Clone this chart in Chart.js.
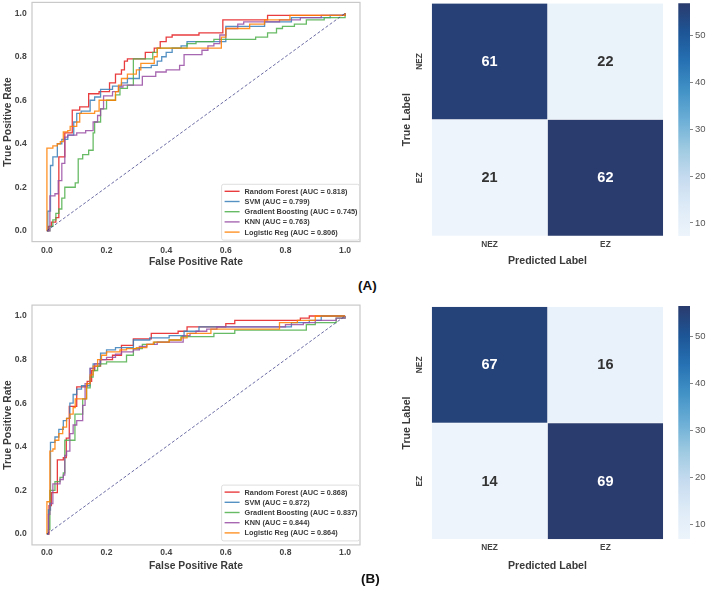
<!DOCTYPE html>
<html><head><meta charset="utf-8">
<script src="https://cdn.jsdelivr.net/npm/chart.js@4.4.0/dist/chart.umd.min.js"></script>
<style>
html,body{margin:0;padding:0;background:#fff;width:708px;height:594px;overflow:hidden;position:relative;}
canvas{position:absolute;}
.panel{position:absolute;font:bold 13.5px "Liberation Sans",Arial,sans-serif;color:#111;white-space:nowrap;}
</style></head><body>
<canvas id="rocA" width="362" height="275" style="left:0;top:0"></canvas>
<canvas id="heatA" width="270" height="275" style="left:395px;top:0"></canvas>
<canvas id="cbarA" width="38" height="275" style="left:670px;top:0"></canvas>
<canvas id="rocB" width="362" height="294" style="left:0;top:300px"></canvas>
<canvas id="heatB" width="270" height="294" style="left:395px;top:300px"></canvas>
<canvas id="cbarB" width="38" height="294" style="left:670px;top:300px"></canvas>
<div class="panel" style="left:358px;top:278px">(A)</div>
<div class="panel" style="left:361px;top:571px">(B)</div>
<script>
// ---------------- DATA ----------------
const modelNames = ['Random Forest', 'SVM', 'Gradient Boosting', 'KNN', 'Logistic Reg'];
const aucA = [0.818, 0.799, 0.745, 0.763, 0.806];
const aucB = [0.868, 0.872, 0.837, 0.844, 0.864];
const rocTicks = [0, 0.2, 0.4, 0.6, 0.8, 1.0];
const diagPts = [[0, 0], [1, 1]];

// ROC corner points [fpr, tpr] (panel A)
const rfA = [[0,0],[0.005,0.02],[0.015,0.04],[0.03,0.06],[0.04,0.34],[0.06,0.45],[0.085,0.555],[0.11,0.57],[0.14,0.63],[0.175,0.64],[0.21,0.68],[0.23,0.72],[0.25,0.74],[0.26,0.78],[0.27,0.79],[0.33,0.82],[0.36,0.84],[0.38,0.87],[0.40,0.89],[0.42,0.90],[0.51,0.91],[0.59,0.97],[0.74,0.99],[1,1]];
const svmA = [[0,0],[0.003,0.09],[0.012,0.30],[0.02,0.34],[0.035,0.40],[0.05,0.42],[0.07,0.44],[0.09,0.50],[0.10,0.54],[0.115,0.55],[0.145,0.60],[0.16,0.615],[0.18,0.65],[0.22,0.665],[0.25,0.68],[0.27,0.70],[0.31,0.75],[0.35,0.76],[0.37,0.78],[0.385,0.80],[0.40,0.82],[0.42,0.84],[0.45,0.85],[0.47,0.87],[0.60,0.94],[0.73,0.96],[0.82,0.98],[0.95,0.99],[1,1]];
const gbA = [[0,0],[0.01,0.02],[0.02,0.05],[0.03,0.08],[0.04,0.10],[0.05,0.15],[0.06,0.20],[0.095,0.22],[0.105,0.33],[0.12,0.35],[0.14,0.37],[0.155,0.45],[0.16,0.50],[0.18,0.56],[0.20,0.60],[0.23,0.625],[0.245,0.655],[0.27,0.67],[0.29,0.79],[0.355,0.82],[0.37,0.84],[0.47,0.86],[0.50,0.87],[0.56,0.88],[0.70,0.89],[0.74,0.91],[0.77,0.93],[0.79,0.94],[0.83,0.95],[0.87,0.97],[0.93,0.98],[1,1]];
const knnA = [[0,0],[0.01,0.16],[0.027,0.17],[0.038,0.23],[0.05,0.31],[0.06,0.43],[0.07,0.44],[0.10,0.45],[0.13,0.46],[0.155,0.50],[0.17,0.53],[0.18,0.56],[0.19,0.62],[0.22,0.64],[0.24,0.66],[0.255,0.67],[0.32,0.71],[0.365,0.73],[0.40,0.74],[0.445,0.76],[0.46,0.81],[0.52,0.83],[0.54,0.85],[0.56,0.86],[0.58,0.90],[0.60,0.93],[0.64,0.95],[0.66,0.96],[0.78,0.97],[0.85,0.98],[0.92,0.99],[1,1]];
const lrA = [[0,0],[0,0.38],[0.02,0.39],[0.035,0.40],[0.045,0.41],[0.055,0.455],[0.07,0.46],[0.078,0.48],[0.10,0.50],[0.11,0.54],[0.16,0.55],[0.175,0.60],[0.23,0.64],[0.24,0.67],[0.25,0.70],[0.27,0.72],[0.30,0.74],[0.315,0.77],[0.36,0.80],[0.37,0.84],[0.585,0.89],[0.60,0.93],[0.68,0.95],[0.73,0.97],[0.815,0.99],[1,1]];

// ROC corner points [fpr, tpr] (panel B)
const rfB = [[0,0],[0.007,0.13],[0.015,0.19],[0.035,0.34],[0.055,0.35],[0.065,0.44],[0.075,0.585],[0.10,0.675],[0.135,0.70],[0.15,0.75],[0.16,0.77],[0.18,0.80],[0.22,0.82],[0.25,0.865],[0.29,0.895],[0.35,0.92],[0.44,0.93],[0.47,0.95],[0.60,0.965],[0.63,0.98],[0.85,0.99],[0.88,1.0],[1,1]];
const svmB = [[0,0],[0.005,0.11],[0.012,0.42],[0.027,0.445],[0.04,0.48],[0.055,0.52],[0.066,0.53],[0.077,0.60],[0.088,0.64],[0.10,0.665],[0.116,0.68],[0.145,0.76],[0.155,0.78],[0.18,0.83],[0.20,0.845],[0.23,0.855],[0.29,0.89],[0.345,0.90],[0.41,0.91],[0.46,0.93],[0.51,0.95],[0.82,0.97],[0.88,0.98],[0.92,1.0],[1,1]];
const gbB = [[0,0],[0.005,0.02],[0.01,0.20],[0.027,0.24],[0.044,0.26],[0.055,0.28],[0.06,0.43],[0.094,0.55],[0.12,0.62],[0.133,0.67],[0.145,0.72],[0.155,0.75],[0.17,0.77],[0.178,0.78],[0.20,0.79],[0.267,0.82],[0.29,0.85],[0.32,0.87],[0.36,0.88],[0.41,0.89],[0.45,0.905],[0.56,0.92],[0.63,0.935],[0.87,0.96],[0.90,0.97],[0.97,0.99],[1,1]];
const knnB = [[0,0],[0.005,0.09],[0.01,0.14],[0.02,0.23],[0.044,0.25],[0.055,0.27],[0.06,0.36],[0.066,0.38],[0.077,0.46],[0.088,0.50],[0.10,0.52],[0.12,0.59],[0.128,0.69],[0.145,0.76],[0.16,0.78],[0.178,0.80],[0.20,0.81],[0.23,0.825],[0.25,0.835],[0.29,0.845],[0.31,0.86],[0.335,0.87],[0.37,0.88],[0.457,0.91],[0.48,0.92],[0.50,0.93],[0.536,0.94],[0.57,0.95],[0.80,0.96],[0.86,0.97],[0.90,0.98],[0.97,0.99],[1,1]];
const lrB = [[0,0],[0,0.148],[0.01,0.38],[0.02,0.39],[0.027,0.43],[0.04,0.46],[0.053,0.49],[0.066,0.53],[0.077,0.55],[0.088,0.58],[0.095,0.62],[0.133,0.69],[0.145,0.73],[0.155,0.77],[0.17,0.80],[0.183,0.82],[0.20,0.835],[0.245,0.845],[0.267,0.85],[0.30,0.855],[0.335,0.87],[0.357,0.88],[0.41,0.89],[0.45,0.90],[0.47,0.92],[0.55,0.94],[0.78,0.97],[0.84,0.98],[0.90,1.0],[1,1]];

// Confusion matrices (rows = true label, cols = predicted label)
const cmLabels = ['NEZ', 'EZ'];
const cmA = [[61, 22], [21, 62]];
const cmB = [[67, 16], [14, 69]];
const cbarTicks = [10, 20, 30, 40, 50];
const cbarRangeA = [7.2, 56.9];
const cbarRangeB = [6.9, 56.4];

// ---------------- STYLE ----------------
const FONT = '"Liberation Sans", Arial, sans-serif';
const lineColors = ['rgba(228,26,28,0.85)', 'rgba(55,126,184,0.85)', 'rgba(77,175,74,0.85)', 'rgba(152,78,163,0.85)', 'rgba(255,127,0,0.85)'];
const cmapStops = [[0, '#edf4fb'], [0.125, '#deebf7'], [0.25, '#c6dbef'], [0.375, '#9ecae1'], [0.5, '#6baed6'], [0.625, '#4292c6'], [0.75, '#2671b3'], [0.875, '#1d5596'], [1, '#2a3b6d']];

function hex2rgb(h) { return [parseInt(h.slice(1,3),16), parseInt(h.slice(3,5),16), parseInt(h.slice(5,7),16)]; }
function cmap(t) {
  t = Math.max(0, Math.min(1, t));
  for (let i = 1; i < cmapStops.length; i++) {
    if (t <= cmapStops[i][0]) {
      const [t0, c0] = cmapStops[i-1], [t1, c1] = cmapStops[i];
      const f = (t - t0) / (t1 - t0), a = hex2rgb(c0), b = hex2rgb(c1);
      return `rgb(${a.map((v,k)=>Math.round(v + (b[k]-v)*f)).join(',')})`;
    }
  }
  return cmapStops[cmapStops.length-1][1];
}
function noPad(s) { s.paddingTop = 0; s.paddingBottom = 0; s.paddingLeft = 0; s.paddingRight = 0; }

// ---------------- PLUGINS ----------------
const rocDecor = {
  id: 'rocDecor',
  afterDatasetsDraw(chart) {
    const {ctx, chartArea: a} = chart;
    ctx.save();
    ctx.strokeStyle = '#c9c9c9'; ctx.lineWidth = 1.2;
    ctx.strokeRect(a.left, a.top, a.right - a.left, a.bottom - a.top);
    ctx.restore();
  },
  afterDraw(chart, args, opts) {
    const {ctx, chartArea: a} = chart;
    const items = chart.data.datasets.filter(d => !d.noLegend);
    ctx.save();
    ctx.font = `bold 7.3px ${FONT}`;
    const tw = Math.max(...items.map(d => ctx.measureText(d.label).width));
    const rowH = 10.2, padT = 7, padB = 8;
    const w = 23 + tw + 2, h = padT + rowH * (items.length - 1) + padB;
    const x0 = a.right - w - 0.5, y0 = a.bottom - h - opts.bottomGap;
    ctx.beginPath();
    if (ctx.roundRect) ctx.roundRect(x0, y0, w, h, 2); else ctx.rect(x0, y0, w, h);
    ctx.fillStyle = 'rgba(255,255,255,0.85)'; ctx.fill();
    ctx.strokeStyle = '#d6d6d6'; ctx.lineWidth = 0.8; ctx.stroke();
    items.forEach((d, i) => {
      const y = y0 + padT + i * rowH;
      ctx.strokeStyle = d.borderColor; ctx.lineWidth = 1.4;
      ctx.beginPath(); ctx.moveTo(x0 + 3, y); ctx.lineTo(x0 + 18, y); ctx.stroke();
      ctx.fillStyle = '#3a3a3a'; ctx.textAlign = 'left'; ctx.textBaseline = 'middle';
      ctx.fillText(d.label, x0 + 23, y + 0.5);
    });
    ctx.restore();
  }
};

const heatText = {
  id: 'heatText',
  afterDatasetsDraw(chart, args, opts) {
    const {ctx} = chart;
    ctx.save();
    ctx.textAlign = 'center'; ctx.textBaseline = 'middle';
    ctx.font = `bold 14.5px ${FONT}`;
    chart.data.datasets.forEach((ds, di) => {
      chart.getDatasetMeta(di).data.forEach((el, i) => {
        ctx.fillStyle = ds.textColors[i];
        ctx.fillText(String(ds.counts[i]), (el.x + el.base) / 2, el.y + 0.5);
      });
    });
    const ys = chart.scales.y;
    ctx.font = `bold 8.3px ${FONT}`; ctx.fillStyle = '#444';
    chart.data.labels.forEach((lab, i) => {
      ctx.save();
      ctx.translate(opts.labelX, ys.getPixelForValue(i));
      ctx.rotate(-Math.PI / 2);
      ctx.fillText(lab, 0, 0);
      ctx.restore();
    });
    ctx.restore();
  }
};

// ---------------- BUILDERS ----------------
function makeRoc(id, curves, aucs, g) {
  const datasets = curves.map((pts, i) => ({
    label: `${modelNames[i]} (AUC = ${aucs[i].toFixed(3)})`,
    data: pts.map(p => ({x: p[0], y: p[1]})),
    showLine: true, stepped: 'before', fill: false,
    borderColor: lineColors[i], backgroundColor: lineColors[i],
    borderWidth: 1.3, pointRadius: 0, order: curves.length - i + 1
  }));
  datasets.push({
    label: 'chance', noLegend: true, data: diagPts.map(p => ({x: p[0], y: p[1]})),
    showLine: true, borderColor: 'rgba(50,50,130,0.9)', borderWidth: 0.8, borderDash: [3, 2],
    pointRadius: 0, order: 0
  });
  const tickFont = {family: FONT, size: 8.6, weight: 'bold'};
  const titleFont = {family: FONT, size: 10.3, weight: 'bold'};
  return new Chart(document.getElementById(id), {
    type: 'scatter',
    data: {datasets},
    options: {
      responsive: false, animation: false, events: [],
      layout: {padding: {left: 0, right: 2, top: g.top, bottom: 0}},
      plugins: {legend: {display: false}, tooltip: {enabled: false}, rocDecor: {bottomGap: g.legGap}},
      scales: {
        x: {
          type: 'linear', min: -0.05, max: 1.05,
          grid: {display: false, drawTicks: false}, border: {display: false},
          afterBuildTicks: s => { s.ticks = rocTicks.map(v => ({value: v})); },
          ticks: {autoSkip: false, maxRotation: 0, padding: g.xTickPad, color: '#444', font: tickFont,
                  callback: v => Number(v).toFixed(1)},
          title: {display: true, text: 'False Positive Rate', color: '#3a3a3a', font: titleFont,
                  padding: {top: 0, bottom: g.xTitlePad}},
          afterFit: s => { s.height = g.xH; noPad(s); }
        },
        y: {
          type: 'linear', min: -0.05, max: 1.05,
          grid: {display: false, drawTicks: false}, border: {display: false},
          afterBuildTicks: s => { s.ticks = rocTicks.map(v => ({value: v})); },
          ticks: {autoSkip: false, padding: 5.3, color: '#444', font: tickFont,
                  callback: v => Number(v).toFixed(1)},
          title: {display: true, text: 'True Positive Rate', color: '#3a3a3a', font: titleFont,
                  padding: {top: 1.8, bottom: 0}},
          afterFit: s => { s.width = 32; noPad(s); }
        }
      }
    },
    plugins: [rocDecor]
  });
}

function makeHeat(id, cm, g) {
  const flat = cm.flat();
  const vmin = Math.min(...flat), vmax = Math.max(...flat);
  const datasets = cmLabels.map((pred, j) => {
    const counts = cm.map(row => row[j]);
    const ts = counts.map(v => (v - vmin) / (vmax - vmin));
    return {
      label: pred,
      data: counts.map(() => 1),
      counts,
      backgroundColor: ts.map(cmap),
      textColors: ts.map(t => t > 0.5 ? '#ffffff' : '#333333'),
      borderColor: 'rgba(255,255,255,0.6)', borderWidth: 0.5,
      barPercentage: 1, categoryPercentage: 1
    };
  });
  const tickFont = {family: FONT, size: 8.3, weight: 'bold'};
  const titleFont = {family: FONT, size: 10.6, weight: 'bold'};
  return new Chart(document.getElementById(id), {
    type: 'bar',
    data: {labels: cmLabels, datasets},
    options: {
      indexAxis: 'y', responsive: false, animation: false, events: [],
      layout: {padding: {left: 0, right: 1.7, top: g.top, bottom: 0}},
      plugins: {legend: {display: false}, tooltip: {enabled: false}, heatText: {labelX: 24.3}},
      scales: {
        x: {
          type: 'linear', stacked: true, min: 0, max: 2,
          grid: {display: false, drawTicks: false}, border: {display: false},
          afterBuildTicks: s => { s.ticks = cmLabels.map((l, i) => ({value: i + 0.5})); },
          ticks: {autoSkip: false, maxRotation: 0, padding: g.xTickPad, color: '#444', font: tickFont,
                  callback: (v, i) => cmLabels[i]},
          title: {display: true, text: 'Predicted Label', color: '#3a3a3a', font: titleFont,
                  padding: {top: 0, bottom: g.xTitlePad}},
          afterFit: s => { s.height = g.xH; noPad(s); }
        },
        y: {
          type: 'category', stacked: true, offset: true,
          grid: {display: false, drawTicks: false}, border: {display: false},
          ticks: {display: false},
          title: {display: true, text: 'True Label', color: '#3a3a3a', font: titleFont,
                  padding: {top: 5.3, bottom: 0}},
          afterFit: s => { s.width = 36.7; noPad(s); }
        }
      }
    },
    plugins: [heatText]
  });
}

function makeCbar(id, range, g) {
  return new Chart(document.getElementById(id), {
    type: 'bar',
    data: {labels: [''], datasets: [{
      data: [[range[0], range[1]]],
      barPercentage: 1, categoryPercentage: 1, borderWidth: 0,
      backgroundColor: (c) => {
        const chart = c.chart, ys = chart.scales.y;
        if (!chart.chartArea || !ys) return cmapStops[4][1];
        const grad = chart.ctx.createLinearGradient(0, ys.getPixelForValue(range[0]), 0, ys.getPixelForValue(range[1]));
        cmapStops.forEach(([t, col]) => grad.addColorStop(t, col));
        return grad;
      }
    }]},
    options: {
      responsive: false, animation: false, events: [],
      layout: {padding: {left: 8.3, right: 0, top: g.top, bottom: g.bottom}},
      plugins: {legend: {display: false}, tooltip: {enabled: false}},
      scales: {
        x: {display: false},
        y: {
          position: 'right', min: range[0], max: range[1],
          afterBuildTicks: s => { s.ticks = cbarTicks.map(v => ({value: v})); },
          grid: {display: true, drawOnChartArea: false, drawTicks: true, tickLength: 3, color: '#666', lineWidth: 0.8},
          border: {display: false},
          ticks: {padding: 2, color: '#555', font: {family: FONT, size: 9.5}},
          afterFit: s => { s.width = 18; noPad(s); }
        }
      }
    }
  });
}

makeRoc('rocA', [rfA, svmA, gbA, knnA, lrA], aucA, {top: 2.4, xH: 33.4, xTickPad: 3.5, xTitlePad: 6.4, legGap: 1.5});
makeRoc('rocB', [rfB, svmB, gbB, knnB, lrB], aucB, {top: 5.1, xH: 49.1, xTickPad: 3, xTitlePad: 22.1, legGap: 4});
makeHeat('heatA', cmA, {top: 3.3, xH: 39, xTickPad: 4, xTitlePad: 7.7});
makeHeat('heatB', cmB, {top: 6.7, xH: 54.7, xTickPad: 3.7, xTitlePad: 22});
makeCbar('cbarA', cbarRangeA, {top: 3.3, bottom: 39});
makeCbar('cbarB', cbarRangeB, {top: 6, bottom: 55});
</script>
</body></html>
